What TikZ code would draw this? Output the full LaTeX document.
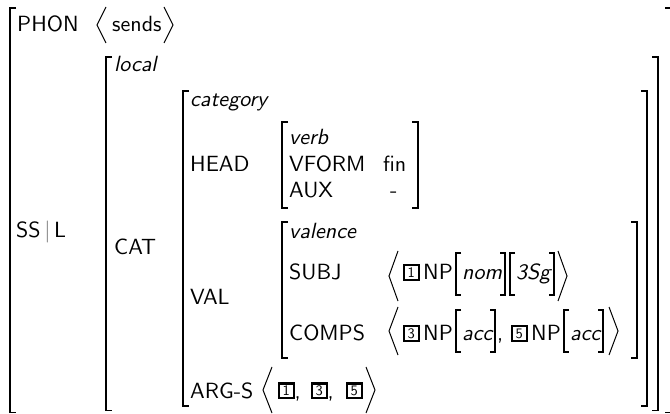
\documentclass[tikz,border=0pt]{standalone}
\usepackage{fontspec}
\usepackage{xcolor}
\newfontfamily\avmsf{lmsans10-regular.otf}[ItalicFont=lmsans10-oblique.otf]
\tikzset{
  lbl/.style={inner sep=0pt, anchor=base west, font=\avmsf\fontsize{22}{26}\selectfont},
  typ/.style={lbl, font=\avmsf\itshape\fontsize{22}{26}\selectfont},
  tagbox/.style={draw, line width=2.2pt, inner sep=0pt, minimum width=14.5pt, minimum height=14.5pt, anchor=south west, font=\avmsf\fontsize{14.5}{14.5}\selectfont},
  brk/.style={line width=1.5pt, line cap=butt, line join=miter},
  ang/.style={line width=1.0pt, line join=miter},
}
\newcommand\avmLB[3]{\draw[brk] (#1+6,#2) -- (#1,#2) -- (#1,#3) -- (#1+6,#3);}
\newcommand\avmRB[3]{\draw[brk] (#1-6,#2) -- (#1,#2) -- (#1,#3) -- (#1-6,#3);}
\newcommand\avmlb[3]{\draw[brk] (#1+5,#2) -- (#1,#2) -- (#1,#3) -- (#1+5,#3);}
\newcommand\avmrb[3]{\draw[brk] (#1-5,#2) -- (#1,#2) -- (#1,#3) -- (#1-5,#3);}
\newcommand\avmLA[3]{\draw[ang] (#1+9,#2) -- (#1,{(#2+#3)/2}) -- (#1+9,#3);}
\newcommand\avmRA[3]{\draw[ang] (#1-9,#2) -- (#1,{(#2+#3)/2}) -- (#1-9,#3);}
\begin{document}
\begin{tikzpicture}[x=1pt,y=-1pt]
\useasboundingbox (0,0) rectangle (670,414);
\fill[white] (0,0) rectangle (670,414);
% outer matrix
\avmLB{10}{8}{412.5}
\avmRB{671}{8}{412.5}
\node[lbl] (phon) at (17,32) {PHON};
\avmLA{97}{7}{43}
\node[lbl] (sends) at (112,32) {sends};
\avmRA{173}{7}{43}
\node[lbl] (ssl) at (16,238) {SS\,\textcolor{black!55}{|}\,L};
% local
\avmLB{106}{57}{410.5}
\avmRB{658}{57}{410.5}
\node[typ] (local) at (114,72) {local};
\node[lbl] (cat) at (114,255) {CAT};
% category
\avmLB{183}{91}{406}
\avmRB{647}{91}{406}
\node[typ] (category) at (190,107) {category};
\node[lbl] (head) at (190,172) {HEAD};
\node[lbl] (val) at (190,305) {VAL};
\node[lbl] (args) at (190,398) {ARG-S};
% head value
\avmLB{282}{122}{208}
\avmRB{418}{122}{208}
\node[typ] (verb) at (289,145) {verb};
\node[lbl] (vform) at (289,172) {VFORM};
\node[lbl] (fin) at (383,172) {fin};
\node[lbl] (aux) at (289,198) {AUX};
\node[lbl] (auxv) at (390,198) {-};
% valence
\avmLB{282}{222}{358}
\avmRB{637}{222}{358}
\node[typ] (valence) at (289,239) {valence};
\node[lbl] (subj) at (289,280) {SUBJ};
\node[lbl] (comps) at (289,341) {COMPS};
% SUBJ value
\avmLA{389}{251}{301}
\node[tagbox] (t1a) at (403,281) {1};
\node[lbl] (np1) at (423,280) {NP};
\avmlb{456}{253}{295}
\node[typ] (nom) at (462,280) {nom};
\avmrb{505}{253}{295}
\avmlb{510}{253}{295}
\node[typ] (tsg) at (516,280) {3Sg};
\avmrb{554}{253}{295}
\avmRA{567}{251}{301}
% COMPS value
\avmLA{389}{307}{355}
\node[tagbox] (t3a) at (403,342) {3};
\node[lbl] (np3) at (423,341) {NP};
\avmlb{456}{310}{352}
\node[typ] (acc3) at (462,341) {acc};
\avmrb{495}{310}{352}
\node[lbl] (cm1) at (497,341) {,};
\node[tagbox] (t5a) at (511,342) {5};
\node[lbl] (np5) at (531,341) {NP};
\avmlb{564}{310}{352}
\node[typ] (acc5) at (570,341) {acc};
\avmrb{603}{310}{352}
\avmRA{618}{307}{355}
% ARG-S value
\avmLA{263}{367}{413}
\node[tagbox] (t1b) at (278,399) {1};
\node[lbl] (cm2) at (294.5,398) {,};
\node[tagbox] (t3b) at (311,399) {3};
\node[lbl] (cm3) at (327.5,398) {,};
\node[tagbox] (t5b) at (346,399) {5};
\avmRA{375}{367}{413}
\end{tikzpicture}
\end{document}
